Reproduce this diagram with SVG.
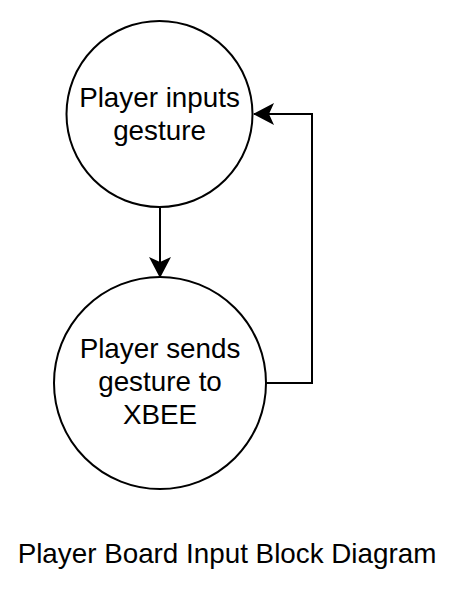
<svg xmlns="http://www.w3.org/2000/svg" width="457" height="599" viewBox="0 0 457 599">
  <style>
    .node { fill: #ffffff; stroke: #000000; stroke-width: 2; }
    .edge { fill: none; stroke: #000000; stroke-width: 2; }
    .label { font-family: "Liberation Sans", Arial, Helvetica, sans-serif; font-size: 27.8px; fill: #000000; text-anchor: middle; }
  </style>
  <defs>
    <marker id="arrow" viewBox="0 0 21 22" markerUnits="userSpaceOnUse" markerWidth="21" markerHeight="22" refX="20" refY="11" orient="auto">
      <path d="M0,0 L21,11 L0,22 L5,11 Z" fill="#000000" stroke="none"/>
    </marker>
  </defs>
  <rect width="457" height="599" fill="#ffffff"/>
  <g id="connectors">
    <path class="edge" d="M160,207 V277" marker-end="url(#arrow)"/>
    <path class="edge" d="M266,383 H312 V114 H254" marker-end="url(#arrow)"/>
  </g>
  <g id="node-input">
    <circle class="node" cx="159.5" cy="114" r="93"/>
    <text class="label" x="159.5" y="107">Player inputs</text>
    <text class="label" x="159.5" y="140">gesture</text>
  </g>
  <g id="node-send">
    <circle class="node" cx="160" cy="383" r="106"/>
    <text class="label" x="160" y="358">Player sends</text>
    <text class="label" x="160" y="391">gesture to</text>
    <text class="label" x="160" y="424">XBEE</text>
  </g>
  <g id="title">
    <text class="label" x="227" y="563">Player Board Input Block Diagram</text>
  </g>
</svg>
